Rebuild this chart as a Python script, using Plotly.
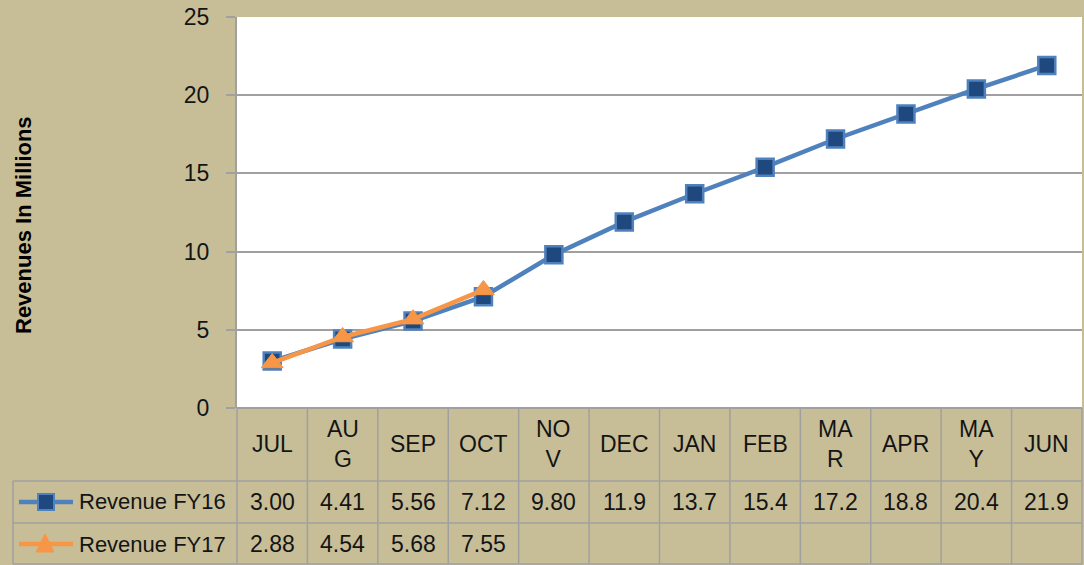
import plotly.graph_objects as go

# ---------------- data ----------------
months = ["JUL", "AUG", "SEP", "OCT", "NOV", "DEC", "JAN", "FEB", "MAR", "APR", "MAY", "JUN"]
month_labels = ["JUL", "AU<br>G", "SEP", "OCT", "NO<br>V", "DEC", "JAN", "FEB", "MA<br>R", "APR", "MA<br>Y", "JUN"]
rev_fy16 = [3.00, 4.41, 5.56, 7.12, 9.80, 11.9, 13.7, 15.4, 17.2, 18.8, 20.4, 21.9]
rev_fy17 = [2.88, 4.54, 5.68, 7.55]
series_names = ["Revenue FY16", "Revenue FY17"]
y_title = "Revenues In Millions"

# ---------------- style ----------------
W, H = 1084, 565
ML, MR, MT, MB = 237, 2, 17, 157
BG = "#C7BE98"
GRID = "#A0A0A0"
BLUE = "#4F81BD"
BLUE_DARK = "#1F487F"
ORANGE = "#F79646"
FONT = "Liberation Sans"
FS = 23
TXT = "#141414"

PW = W - ML - MR
PH = H - MT - MB


def px_x(px):
    return (px - ML) / PW


def px_y(py):
    return (H - MB - py) / PH


def fmt(v):
    return f"{v:.2f}" if v < 10 else f"{v:.1f}"


fig = go.Figure()
idx = list(range(len(months)))
fig.add_trace(go.Scatter(
    x=idx, y=rev_fy16, mode="lines+markers", name=series_names[0],
    line=dict(color=BLUE, width=4.5),
    marker=dict(symbol="square", size=17, color=BLUE_DARK, line=dict(color=BLUE, width=2.5)),
))
fig.add_trace(go.Scatter(
    x=idx[:len(rev_fy17)], y=rev_fy17, mode="lines+markers", name=series_names[1],
    line=dict(color=ORANGE, width=4.5),
    marker=dict(symbol="triangle-up", size=19, color=ORANGE, line=dict(color=ORANGE, width=1)),
))

shapes = []
ann = []
n = len(months)
y_top = 0.0
y_r1 = px_y(481)
y_r2 = px_y(523)
y_bot = px_y(564)
x_left = px_x(13)
line_style = dict(color=GRID, width=1.5)

# vertical borders of the data table
for k in range(n + 1):
    xp = k / n
    shapes.append(dict(type="line", xref="paper", yref="paper", x0=xp, x1=xp,
                       y0=y_top, y1=y_bot, line=line_style, layer="above"))
shapes.append(dict(type="line", xref="paper", yref="paper", x0=x_left, x1=x_left,
                   y0=y_r1, y1=y_bot, line=line_style, layer="above"))
for yy in (y_r1, y_r2, y_bot):
    shapes.append(dict(type="line", xref="paper", yref="paper", x0=x_left, x1=1,
                       y0=yy, y1=yy, line=line_style, layer="above"))

# header labels
for i, lab in enumerate(month_labels):
    ann.append(dict(x=i, xref="x", y=px_y(444), yref="paper", text=lab, showarrow=False,
                    font=dict(family=FONT, size=FS, color=TXT), xanchor="center", yanchor="middle"))

# value rows
rows = [(rev_fy16, px_y(502)), (rev_fy17, px_y(544))]
for vals, yy in rows:
    for i, v in enumerate(vals):
        ann.append(dict(x=i, xref="x", y=yy, yref="paper", text=fmt(v), showarrow=False,
                        font=dict(family=FONT, size=FS, color=TXT), xanchor="center", yanchor="middle"))

# row legend keys
key_specs = [(series_names[0], px_y(502), BLUE, "square"), (series_names[1], px_y(544), ORANGE, "triangle")]
for name, yy, col, sym in key_specs:
    shapes.append(dict(type="line", xref="paper", yref="paper", x0=px_x(19), x1=px_x(73),
                       y0=yy, y1=yy, line=dict(color=col, width=4.5), layer="above"))
    if sym == "square":
        shapes.append(dict(type="rect", xref="paper", yref="paper",
                           x0=px_x(38), x1=px_x(54), y0=yy - 8 / PH, y1=yy + 8 / PH,
                           fillcolor=BLUE_DARK, line=dict(color=BLUE, width=2), layer="above"))
    else:
        cx = px_x(45)
        path = (f"M {cx - 9 / PW} {yy - 8 / PH} L {cx + 9 / PW} {yy - 8 / PH} "
                f"L {cx} {yy + 10 / PH} Z")
        shapes.append(dict(type="path", xref="paper", yref="paper", path=path,
                           fillcolor=ORANGE, line=dict(color=ORANGE, width=1), layer="above"))
    ann.append(dict(x=px_x(77), xref="paper", y=yy, yref="paper", text=name, showarrow=False,
                    font=dict(family=FONT, size=22, color=TXT), xanchor="left", yanchor="middle"))

# y axis title
ann.append(dict(x=px_x(23), xref="paper", y=px_y(225), yref="paper", text=f"<b>{y_title}</b>",
                showarrow=False, textangle=-90, font=dict(family=FONT, size=22, color="#000000"),
                xanchor="center", yanchor="middle"))

fig.update_layout(
    width=W, height=H,
    margin=dict(l=ML, r=MR, t=MT, b=MB),
    paper_bgcolor=BG, plot_bgcolor="white",
    showlegend=False,
    shapes=shapes, annotations=ann,
    font=dict(family=FONT, size=FS, color=TXT),
)
fig.update_xaxes(range=[-0.5, n - 0.5], showticklabels=False, showgrid=False, zeroline=False,
                 showline=False, ticks="", fixedrange=True)
fig.update_yaxes(range=[0, 25], dtick=5, showgrid=True, gridcolor=GRID, gridwidth=1.5,
                 zeroline=True, zerolinecolor=GRID, zerolinewidth=1.5,
                 showline=True, linecolor=GRID, linewidth=2,
                 ticks="outside", ticklen=9, tickcolor=GRID, tickwidth=1.5,
                 ticklabelstandoff=12,
                 tickfont=dict(family=FONT, size=FS, color=TXT))

fig.write_html("out.html", config={"displayModeBar": False},
               post_script="document.body.style.margin='0';document.body.style.overflow='hidden';")
